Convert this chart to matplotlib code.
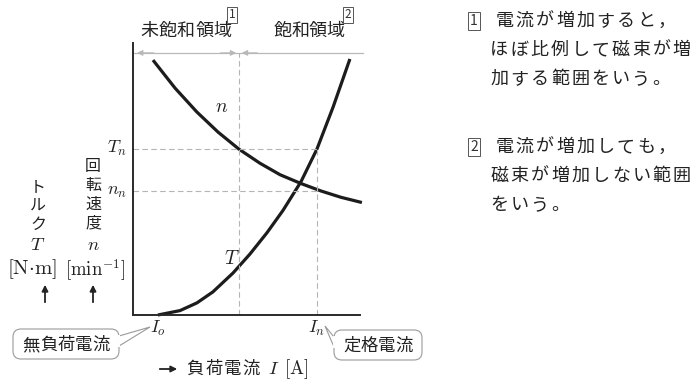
import matplotlib
matplotlib.use("Agg")
import matplotlib.pyplot as plt
from matplotlib.patches import FancyBboxPatch, Polygon

plt.rcParams['font.family'] = ['Noto Sans CJK JP', 'DejaVu Sans']
plt.rcParams['mathtext.fontset'] = 'cm'

# ---- data (arbitrary units) ----
I_T = [1.06, 2.00, 2.72, 3.40, 4.26, 4.98, 5.70, 6.38, 7.15, 7.83, 8.51, 9.23]
T_vals = [0.00, 0.16, 0.44, 0.84, 1.53, 2.22, 2.99, 3.80, 4.85, 6.04, 7.55, 9.31]
I_n = [0.85, 1.79, 2.72, 3.62, 4.51, 5.40, 6.26, 7.15, 8.00, 8.85, 9.74]
n_vals = [9.27, 8.25, 7.38, 6.65, 6.03, 5.52, 5.10, 4.78, 4.51, 4.28, 4.09]

I0 = 1.06       # 無負荷電流
I_sat = 4.51    # 未飽和/飽和 境界
In = 7.83       # 定格電流
Tn = 6.04
nn = 4.52

region_labels = ['未飽和領域', '飽和領域']
notes = [['電流が増加すると，', 'ほぼ比例して磁束が増', '加する範囲をいう。'],
         ['電流が増加しても，', '磁束が増加しない範囲', 'をいう。']]

W, H = 700, 386
fig = plt.figure(figsize=(W / 100, H / 100), dpi=100)
fig.patch.set_facecolor('white')

# overlay in pixel coordinates for annotations
ov = fig.add_axes([0, 0, 1, 1], zorder=0)
ov.set_xlim(0, W)
ov.set_ylim(H, 0)
ov.axis('off')

ax_l, ax_r, ax_t, ax_b = 133, 368, 43, 315
ax = fig.add_axes([ax_l / W, (H - ax_b) / H, (ax_r - ax_l) / W, (ax_b - ax_t) / H], zorder=2)
ax.patch.set_alpha(0)
ax.set_xlim(0, 10)
ax.set_ylim(0, (ax_b - ax_t) / 27.5)
for s in ['top', 'right']:
    ax.spines[s].set_visible(False)
for s in ['left', 'bottom']:
    ax.spines[s].set_color('#2a2a2a')
    ax.spines[s].set_linewidth(1.4)
ax.spines['bottom'].set_bounds(0, 9.68)
ax.set_xticks([])
ax.set_yticks([])

curve_c = '#1c1c1c'
dash_c = '#b5b5b5'
ax.plot(I_T, T_vals, color=curve_c, lw=2.3, solid_capstyle='butt', solid_joinstyle='round', clip_on=False)
ax.plot(I_n, n_vals, color=curve_c, lw=2.3, solid_capstyle='butt', solid_joinstyle='round', clip_on=False)

# dashed guides
top_y = 9.53
ax.plot([I_sat, I_sat], [0, top_y], ls=(0, (5, 3)), color=dash_c, lw=0.8)
ax.plot([In, In], [0, Tn], ls=(0, (5, 3)), color=dash_c, lw=0.8)
ax.plot([0, In], [Tn, Tn], ls=(0, (5, 3)), color=dash_c, lw=0.8)
ax.plot([0, In], [nn, nn], ls=(0, (5, 3)), color=dash_c, lw=0.8)

# region arrow line
arr_c = '#b8b8b8'
ax.plot([0.05, 9.8], [top_y, top_y], color=arr_c, lw=0.9, clip_on=False)
for xa, xt in [(0.05, 1.0), (I_sat, I_sat - 0.9), (I_sat, I_sat + 0.9)]:
    ax.annotate('', xy=(xa, top_y), xytext=(xt, top_y),
                arrowprops=dict(arrowstyle='-|>', color=arr_c, lw=0.9, mutation_scale=8))

# tick-like labels
tc = '#222222'
ax.text(-0.25, Tn, r'$T_n$', ha='right', va='center', fontsize=13, color=tc)
ax.text(-0.25, nn, r'$n_n$', ha='right', va='center', fontsize=13, color=tc)
ax.text(I0, -0.15, r'$I_o$', ha='center', va='top', fontsize=13, color=tc)
ax.text(In, -0.15, r'$I_n$', ha='center', va='top', fontsize=13, color=tc)
ax.text(3.79, 7.6, r'$n$', ha='center', va='center', fontsize=14, color=tc)
ax.text(4.21, 2.07, r'$T$', ha='center', va='center', fontsize=14, color=tc)


def spaced(x, y, s, pitch, fs):
    """place CJK text one character per cell (wide tracking like the print)"""
    for i, ch in enumerate(s):
        ov.text(x + pitch * (i + 0.5), y, ch, ha='center', va='center', fontsize=fs, color=tc)


def boxnum(x, y, s, fs=9):
    ov.text(x, y, s, ha='center', va='center', fontsize=fs, color='#333333',
            bbox=dict(boxstyle='square,pad=0.15', fc='white', ec='#555555', lw=0.7))


# region labels with boxed numbers
spaced(140, 31, region_labels[0], 18.4, 13)
spaced(274, 31, region_labels[1], 17.6, 13)
boxnum(232, 15, '1', fs=8.5)
boxnum(348, 15, '2', fs=8.5)

# left vertical axis labels
for i, ch in enumerate('トルク'):
    ov.text(38, 188 + 18.3 * i, ch, ha='center', va='center', fontsize=11.5, color=tc)
for i, ch in enumerate('回転速度'):
    ov.text(93, 167 + 18.7 * i, ch, ha='center', va='center', fontsize=11.5, color=tc)
ov.text(38, 245, r'$T$', ha='center', va='center', fontsize=13.5, color=tc)
ov.text(93, 244, r'$n$', ha='center', va='center', fontsize=13.5, color=tc)
ov.text(32, 269, r'$[\mathrm{N{\cdot}m}]$', ha='center', va='center', fontsize=15, color=tc)
ov.text(95, 270, r'$[\mathrm{min}^{-1}]$', ha='center', va='center', fontsize=13.5, color=tc)
for xa in (45, 93):
    ov.annotate('', xy=(xa, 282), xytext=(xa, 305),
                arrowprops=dict(arrowstyle='-|>', color=tc, lw=1.3, mutation_scale=9))


# callout boxes
def callout(x0, y0, w, h, text, tip, base, pitch):
    box = FancyBboxPatch((x0, y0), w, h, boxstyle='round,pad=0,rounding_size=8',
                         fc='white', ec='#9a9a9a', lw=0.8, zorder=3)
    ov.add_patch(box)
    poly = Polygon([base[0], tip, base[1]], closed=False, fill=True, fc='white',
                   ec='#9a9a9a', lw=0.8, zorder=4)
    ov.add_patch(poly)
    ov.plot([base[0][0], base[1][0]], [base[0][1], base[1][1]], color='white', lw=1.4, zorder=5)
    n = len(text)
    xs = x0 + w / 2 - pitch * n / 2
    for i, ch in enumerate(text):
        ov.text(xs + pitch * (i + 0.5), y0 + h / 2 + 1, ch, ha='center', va='center',
                fontsize=12.5, color=tc, zorder=6)


callout(13, 329, 106, 30, '無負荷電流', (150, 327), [(119, 336), (119, 346)], 17.6)
callout(334, 330, 88, 30, '定格電流', (325, 326), [(334, 337), (334, 347)], 17.6)

# x-axis label
ov.annotate('', xy=(180, 369), xytext=(157, 369),
            arrowprops=dict(arrowstyle='-|>', color=tc, lw=1.3, mutation_scale=9))
spaced(186, 369, '負荷電流', 18.5, 12.5)
ov.text(268, 369, r'$I$', ha='left', va='center', fontsize=13.5, color=tc)
ov.text(284, 369, r'$[\mathrm{A}]$', ha='left', va='center', fontsize=13.5, color=tc)

# right-hand notes
y_starts = [21, 147]
for k, lines in enumerate(notes):
    y = y_starts[k]
    boxnum(474, y, str(k + 1), fs=10)
    spaced(494, y, lines[0], 20.3, 13)
    spaced(489, y + 29, lines[1], 20.3, 13)
    spaced(489, y + 58, lines[2], 20.3, 13)

fig.savefig('out.png', dpi=100, facecolor='white')
